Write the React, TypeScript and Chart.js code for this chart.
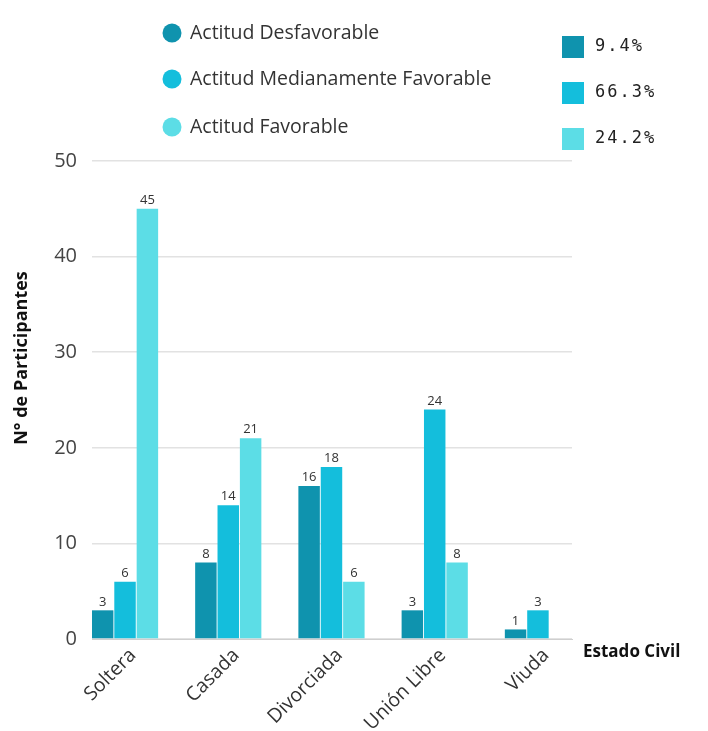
import React, { useEffect, useRef } from "react";
import { Chart, registerables } from "chart.js";

Chart.register(...registerables);

const categories = ["Soltera", "Casada", "Divorciada", "Unión Libre", "Viuda"];
const seriesNames = [
  "Actitud Desfavorable",
  "Actitud Medianamente Favorable",
  "Actitud Favorable",
];
const desfavorable = [3, 8, 16, 3, 1];
const medianamente = [6, 14, 18, 24, 3];
const favorable = [45, 21, 6, 8, null];
const percentLabels = ["9.4%", "66.3%", "24.2%"];
const colors = ["#0f93ae", "#14bedc", "#5cdde6"];
const yTicks = [0, 10, 20, 30, 40, 50];
const yTitle = "N° de Participantes";
const xTitle = "Estado Civil";

const FONT = "'Open Sans', 'Noto Sans', sans-serif";

const extrasPlugin = {
  id: "extras",
  afterDatasetsDraw(chart: any) {
    const ctx = chart.ctx;
    ctx.save();
    ctx.font = `13px ${FONT}`;
    ctx.fillStyle = "#333";
    ctx.textAlign = "center";
    ctx.textBaseline = "bottom";
    chart.data.datasets.forEach((ds: any, di: number) => {
      const meta = chart.getDatasetMeta(di);
      meta.data.forEach((el: any, i: number) => {
        const v = ds.data[i].y;
        if (v === null || v === undefined) return;
        ctx.fillText(String(v), el.x, el.y - 2);
      });
    });
    ctx.restore();
  },
  afterDraw(chart: any) {
    const ctx = chart.ctx;
    const area = chart.chartArea;
    ctx.save();
    // left legend with circles
    ctx.textBaseline = "middle";
    ctx.textAlign = "left";
    ctx.font = `19.5px ${FONT}`;
    const legendYs = [33, 79, 127];
    seriesNames.forEach((name, i) => {
      ctx.fillStyle = colors[i];
      ctx.beginPath();
      ctx.arc(172, legendYs[i], 9.5, 0, Math.PI * 2);
      ctx.fill();
      ctx.fillStyle = "#333";
      ctx.fillText(name, 190, legendYs[i]);
    });
    // right legend with squares
    const sqYs = [47, 93, 139];
    ctx.font = `17px 'DejaVu Sans Mono', monospace`;
    try { (ctx as any).letterSpacing = "2px"; } catch (e) {}
    percentLabels.forEach((p, i) => {
      ctx.fillStyle = colors[i];
      ctx.fillRect(562, sqYs[i] - 11, 22, 22);
      ctx.fillStyle = "#222";
      ctx.fillText(p, 595, sqYs[i]);
    });
    try { (ctx as any).letterSpacing = "0px"; } catch (e) {}
    // y title
    ctx.save();
    ctx.translate(22, 358);
    ctx.rotate(-Math.PI / 2);
    ctx.textAlign = "center";
    ctx.font = `bold 18px ${FONT}`;
    ctx.fillStyle = "#111";
    ctx.fillText(yTitle, 0, 0);
    ctx.restore();
    // x title
    ctx.textAlign = "left";
    ctx.font = `bold 17px ${FONT}`;
    ctx.fillStyle = "#111";
    ctx.fillText(xTitle, area.right + 11, area.bottom + 13);
    ctx.restore();
  },
};

export default function App() {
  const ref = useRef<HTMLCanvasElement | null>(null);
  useEffect(() => {
    if (!ref.current) return;
    const series = [desfavorable, medianamente, favorable];
    const chart = new Chart(ref.current, {
      type: "bar",
      data: {
        datasets: series.map((vals, si) => ({
          label: seriesNames[si],
          data: vals.map((v, i) => ({ x: i, y: v })),
          backgroundColor: colors[si],
          borderWidth: 0,
          categoryPercentage: 0.65,
          barPercentage: 0.96,
        })) as any,
      },
      options: {
        animation: false,
        responsive: false,
        layout: { padding: { top: 161, right: 136, left: 0, bottom: 0 } },
        plugins: { legend: { display: false }, tooltip: { enabled: false } },
        scales: {
          x: {
            type: "linear",
            offset: false,
            min: -0.32,
            max: 4.33,
            afterBuildTicks: (scale: any) => {
              scale.ticks = categories.map((_, i) => ({ value: i }));
            },
            afterFit: (scale: any) => {
              scale.height = 92;
            },
            grid: { display: false, drawTicks: false, offset: false },
            border: { display: true, color: "#cfcfcf", width: 1 },
            ticks: {
              autoSkip: false,
              minRotation: 45,
              maxRotation: 45,
              padding: 5,
              labelOffset: 8,
              color: "#333",
              font: { family: FONT, size: 19.5 },
              callback: (v: any) => categories[v] ?? "",
            },
          },
          y: {
            min: 0,
            max: 50,
            afterBuildTicks: (scale: any) => {
              scale.ticks = yTicks.map((v) => ({ value: v }));
            },
            afterFit: (scale: any) => {
              scale.width = 92;
            },
            grid: { color: "#e2e2e2", lineWidth: 1.5, drawTicks: false },
            border: { display: false },
            ticks: {
              padding: 15,
              color: "#444",
              font: { family: FONT, size: 20 },
            },
          },
        },
      },
      plugins: [extrasPlugin],
    });
    return () => chart.destroy();
  }, []);
  return (
    <div style={{ position: "absolute", left: 0, top: 0, width: 708, height: 731, background: "#fff" }}>
      <canvas ref={ref} width={708} height={731} style={{ display: "block" }} />
    </div>
  );
}
